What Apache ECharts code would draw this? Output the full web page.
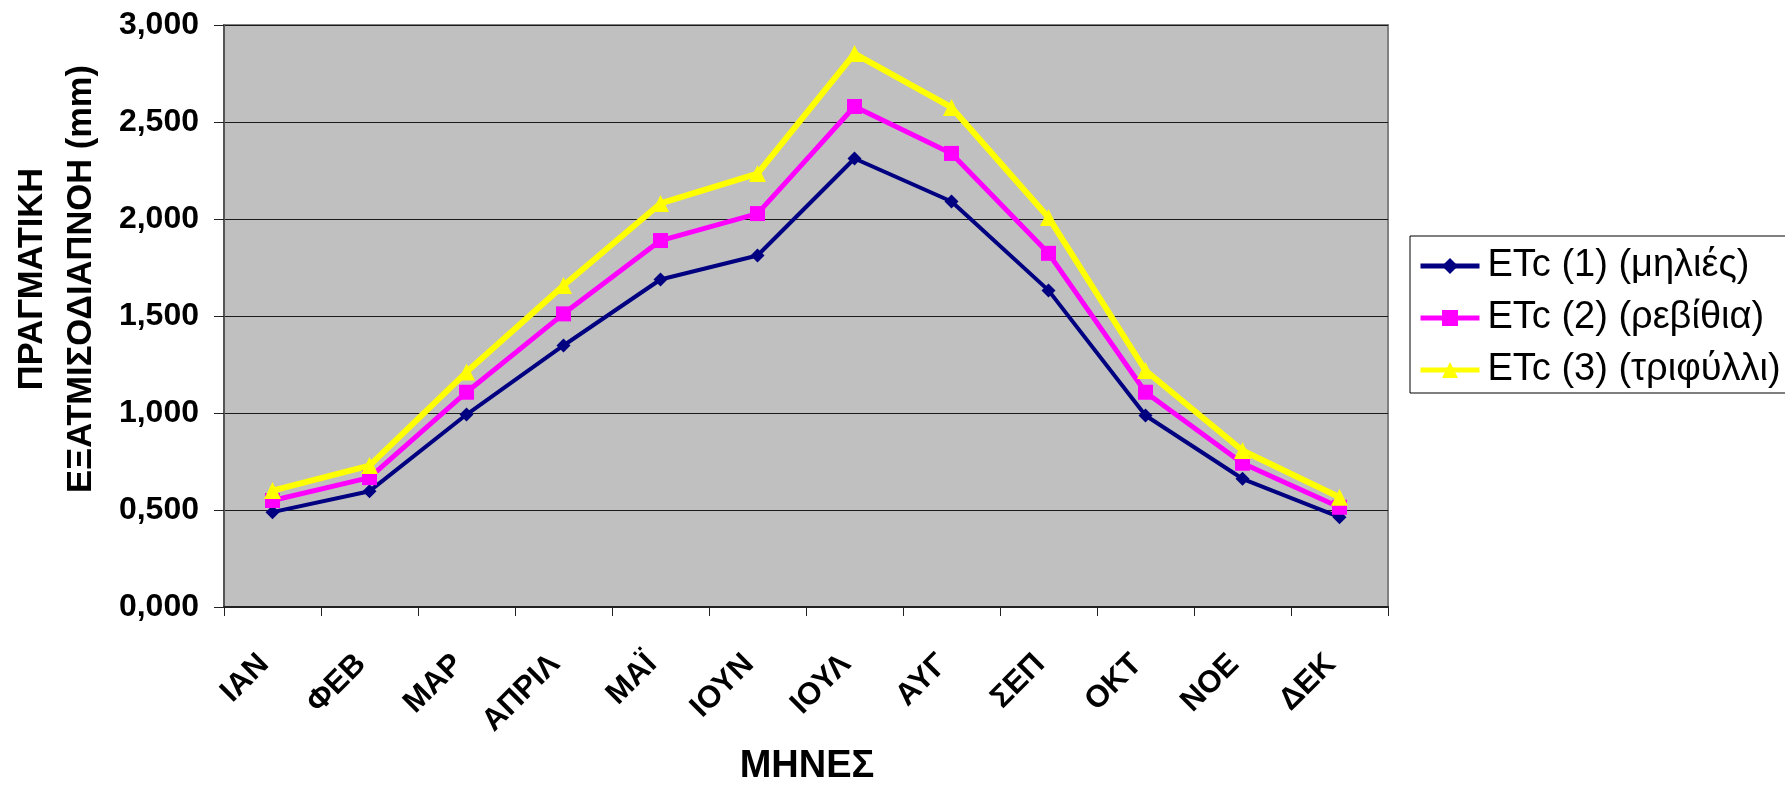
<!DOCTYPE html>
<html>
<head>
<meta charset="utf-8">
<script src="https://cdn.jsdelivr.net/npm/echarts@6/dist/echarts.min.js"></script>
<style>
  html, body { margin: 0; padding: 0; background: #fff; }
  #chart { width: 1785px; height: 785px; }
</style>
</head>
<body>
<div id="chart"></div>
<script>
// Months (Greek abbreviations)
const months = ['ΙΑΝ', 'ΦΕΒ', 'ΜΑΡ', 'ΑΠΡΙΛ', 'ΜΑΪ', 'ΙΟΥΝ', 'ΙΟΥΛ', 'ΑΥΓ', 'ΣΕΠ', 'ΟΚΤ', 'ΝΟΕ', 'ΔΕΚ'];

// Actual evapotranspiration ETc (mm) per crop
const seriesNames = ['ETc (1) (μηλιές)', 'ETc (2) (ρεβίθια)', 'ETc (3) (τριφύλλι)'];
const etcApples   = [0.489, 0.597, 0.992, 1.348, 1.688, 1.812, 2.312, 2.090, 1.632, 0.987, 0.661, 0.463];
const etcChickpea = [0.549, 0.667, 1.107, 1.511, 1.889, 2.028, 2.580, 2.338, 1.823, 1.107, 0.741, 0.514];
const etcClover   = [0.600, 0.729, 1.211, 1.657, 2.080, 2.234, 2.853, 2.575, 2.008, 1.219, 0.807, 0.566];

const yTitleLines = ['ΠΡΑΓΜΑΤΙΚΗ', 'ΕΞΑΤΜΙΣΟΔΙΑΠΝΟΗ (mm)'];
const xTitle = 'ΜΗΝΕΣ';

const FONT = 'Arial, "Liberation Sans", sans-serif';

// Per-series style: colour, marker, marker size, line width
const styles = [
  { color: '#000080', symbol: 'diamond',  size: 14, width: 4 },
  { color: '#FF00FF', symbol: 'rect',     size: 15, width: 5 },
  { color: '#FFFF00', symbol: 'triangle', size: 17, width: 6 }
];
const seriesData = [etcApples, etcChickpea, etcClover];

const chart = echarts.init(document.getElementById('chart'), null, { renderer: 'canvas' });

const series = seriesNames.map(function (name, i) {
  const s = styles[i];
  return {
    name: name,
    type: 'line',
    data: seriesData[i],
    symbol: s.symbol,
    symbolSize: s.size,
    showAllSymbol: true,
    lineStyle: { color: s.color, width: s.width },
    itemStyle: { color: s.color, borderWidth: 0 },
    emphasis: { disabled: true },
    animation: false
  };
});

const legendData = seriesNames.map(function (name, i) {
  return { name: name, lineStyle: { width: 5, color: styles[i].color } };
});

chart.setOption({
  animation: false,
  grid: {
    left: 224, right: 397, top: 25, bottom: 178,
    show: true,
    backgroundColor: '#C0C0C0',
    borderColor: '#808080',
    borderWidth: 2
  },
  legend: {
    orient: 'vertical',
    left: 1410,
    top: 236,
    padding: [7, 60, 0, 8],
    borderColor: '#000',
    borderWidth: 1,
    backgroundColor: '#fff',
    itemWidth: 59,
    itemHeight: 20,
    itemGap: 6,
    lineStyle: { width: 5 },
    textStyle: { fontFamily: FONT, fontSize: 38, color: '#000', lineHeight: 46, padding: [0, 0, 0, 3] },
    data: legendData
  },
  xAxis: {
    type: 'category',
    data: months,
    boundaryGap: true,
    axisLine: { show: true, lineStyle: { color: '#222', width: 2 } },
    axisTick: { show: true, length: 9, lineStyle: { color: '#222' } },
    axisLabel: {
      rotate: 45,
      interval: 0,
      margin: 44,
      padding: [0, 12, 0, 0],
      fontFamily: FONT,
      fontSize: 31,
      fontWeight: 'bold',
      color: '#000'
    },
    splitLine: { show: false }
  },
  yAxis: {
    type: 'value',
    min: 0,
    max: 3,
    interval: 0.5,
    axisLine: { show: true, lineStyle: { color: '#555', width: 2 } },
    axisTick: { show: true, length: 10, lineStyle: { color: '#222' } },
    axisLabel: {
      margin: 25,
      fontFamily: FONT,
      fontSize: 32,
      fontWeight: 'bold',
      color: '#000',
      formatter: function (v) { return v.toFixed(3).replace('.', ','); }
    },
    splitLine: { show: true, lineStyle: { color: '#1a1a1a', width: 1 } }
  },
  graphic: [
    {
      type: 'text',
      x: 57,
      y: 279,
      rotation: Math.PI / 2,
      style: {
        text: yTitleLines.join('\n'),
        fontFamily: FONT,
        fontSize: 34.5,
        fontWeight: 'bold',
        lineHeight: 49,
        fill: '#000',
        align: 'center',
        verticalAlign: 'middle'
      }
    },
    {
      type: 'text',
      x: 807,
      y: 767,
      style: {
        text: xTitle,
        fontFamily: FONT,
        fontSize: 38,
        fontWeight: 'bold',
        fill: '#000',
        align: 'center',
        verticalAlign: 'middle'
      }
    }
  ],
  series: series
});
</script>
</body>
</html>
